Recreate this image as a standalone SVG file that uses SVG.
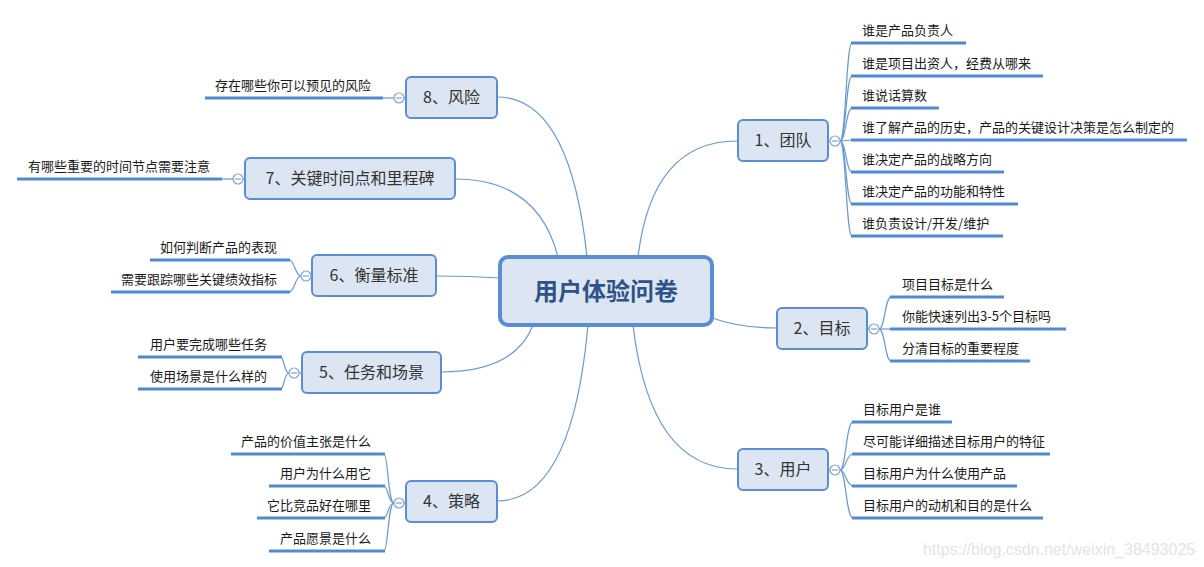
<svg xmlns="http://www.w3.org/2000/svg" width="1204" height="567" viewBox="0 0 1204 567">
<style>
.bg{fill:#ffffff}
.conn{fill:none;stroke:#6a98d6;stroke-width:1.2}
.lconn{fill:none;stroke:#6a98d6;stroke-width:1.2}
.ul{stroke:#5389d1;stroke-width:3;stroke-linecap:butt}
.box{fill:#dce6f2;stroke:#5b8dd5;stroke-width:2}
.root{fill:#dce6f2;stroke:#5b8dd5;stroke-width:4}
.col{fill:#ffffff;stroke:#7ba3dc;stroke-width:1.2}
.minus{stroke:#7ba3dc;stroke-width:1.2}
.bt{font-family:"Noto Sans CJK SC","Liberation Sans",sans-serif;font-size:16px;fill:#333;text-anchor:middle}
.rt{font-family:"Noto Sans CJK SC","Liberation Sans",sans-serif;font-size:24px;font-weight:bold;fill:#2f5288;text-anchor:middle}
.lt{font-family:"Noto Sans CJK SC","Liberation Sans",sans-serif;font-size:13px;fill:#1a1a1a}
.le{text-anchor:end}
.wm{font-family:"Liberation Sans",Arial,sans-serif;font-size:16px;fill:#e4e4e4}
</style>
<rect class="bg" x="0" y="0" width="1204" height="567"/>
<g id="connectors">
<path class="conn" d="M638,257 Q652,141 737,141"/>
<path class="conn" d="M712,318 Q740,328 777,328"/>
<path class="conn" d="M633,325 Q650,469 737,469"/>
<path class="conn" d="M587,257 Q570,97 497,97"/>
<path class="conn" d="M558,257 Q538,179 455,179"/>
<path class="conn" d="M500,278 Q470,276 436,276"/>
<path class="conn" d="M533,325 Q515,372 441,372"/>
<path class="conn" d="M588,325 Q572,501 497,501"/>
<path class="lconn" d="M829,141 L830,141"/>
<path class="lconn" d="M840,141 C846,141 846,43 852,43"/>
<path class="lconn" d="M840,141 C846,141 846,76 852,76"/>
<path class="lconn" d="M840,141 C846,141 846,108 852,108"/>
<path class="lconn" d="M840,141 L852,140"/>
<path class="lconn" d="M840,141 C846,141 846,172 852,172"/>
<path class="lconn" d="M840,141 C846,141 846,204 852,204"/>
<path class="lconn" d="M840,141 C846,141 846,236 852,236"/>
<path class="lconn" d="M867,329 L869,329"/>
<path class="lconn" d="M879,329 C885,329 885,297 891,297"/>
<path class="lconn" d="M879,329 L891,329"/>
<path class="lconn" d="M879,329 C885,329 885,361 891,361"/>
<path class="lconn" d="M829,470 L830,470"/>
<path class="lconn" d="M840,470 C846,470 846,422 853,422"/>
<path class="lconn" d="M840,470 C846,470 846,454 853,454"/>
<path class="lconn" d="M840,470 C846,470 846,486 853,486"/>
<path class="lconn" d="M840,470 C846,470 846,518 853,518"/>
<path class="lconn" d="M406,98 L404,98"/>
<path class="lconn" d="M394,98 L383,98"/>
<path class="lconn" d="M245,179 L243,179"/>
<path class="lconn" d="M233,179 L222,179"/>
<path class="lconn" d="M312,276 L311,276"/>
<path class="lconn" d="M301,276 C295,276 295,260 289,260"/>
<path class="lconn" d="M301,276 C295,276 295,292 289,292"/>
<path class="lconn" d="M302,373 L299,373"/>
<path class="lconn" d="M289,373 C284,373 284,357 281,357"/>
<path class="lconn" d="M289,373 C284,373 284,389 281,389"/>
<path class="lconn" d="M406,503 L404,503"/>
<path class="lconn" d="M394,503 C388,503 388,454 384,454"/>
<path class="lconn" d="M394,503 C388,503 388,486 384,486"/>
<path class="lconn" d="M394,503 C388,503 388,518 384,518"/>
<path class="lconn" d="M394,503 C388,503 388,551 384,551"/>
</g>
<g id="root">
<rect class="root" x="500" y="257" width="212" height="68" rx="8"/>
<text class="rt" x="606" y="300">用户体验问卷</text>
</g>
<g id="b1">
<rect class="box" x="738" y="120" width="90" height="41" rx="5"/>
<text class="bt" x="783" y="146">1、团队</text>
<circle class="col" cx="835" cy="141" r="5"/><line class="minus" x1="832" y1="141" x2="838" y2="141"/>
</g>
<g id="b1-leaves">
<line class="ul" x1="851" y1="43" x2="966" y2="43"/><text class="lt" x="862" y="35">谁是产品负责人</text>
<line class="ul" x1="851" y1="76" x2="1043" y2="76"/><text class="lt" x="862" y="68">谁是项目出资人，经费从哪来</text>
<line class="ul" x1="851" y1="108" x2="939" y2="108"/><text class="lt" x="862" y="100">谁说话算数</text>
<line class="ul" x1="851" y1="140" x2="1187" y2="140"/><text class="lt" x="862" y="132">谁了解产品的历史，产品的关键设计决策是怎么制定的</text>
<line class="ul" x1="851" y1="172" x2="1004" y2="172"/><text class="lt" x="862" y="164">谁决定产品的战略方向</text>
<line class="ul" x1="851" y1="204" x2="1018" y2="204"/><text class="lt" x="862" y="196">谁决定产品的功能和特性</text>
<line class="ul" x1="851" y1="236" x2="1003" y2="236"/><text class="lt" x="862" y="228">谁负责设计/开发/维护</text>
</g>
<g id="b2">
<rect class="box" x="777" y="308" width="90" height="41" rx="5"/>
<text class="bt" x="822" y="334">2、目标</text>
<circle class="col" cx="874" cy="329" r="5"/><line class="minus" x1="871" y1="329" x2="877" y2="329"/>
</g>
<g id="b2-leaves">
<line class="ul" x1="890" y1="297" x2="1004" y2="297"/><text class="lt" x="902" y="289">项目目标是什么</text>
<line class="ul" x1="890" y1="329" x2="1066" y2="329"/><text class="lt" x="902" y="321">你能快速列出3-5个目标吗</text>
<line class="ul" x1="890" y1="361" x2="1030" y2="361"/><text class="lt" x="902" y="353">分清目标的重要程度</text>
</g>
<g id="b3">
<rect class="box" x="738" y="449" width="90" height="41" rx="5"/>
<text class="bt" x="783" y="475">3、用户</text>
<circle class="col" cx="835" cy="470" r="5"/><line class="minus" x1="832" y1="470" x2="838" y2="470"/>
</g>
<g id="b3-leaves">
<line class="ul" x1="852" y1="422" x2="952" y2="422"/><text class="lt" x="863" y="414">目标用户是谁</text>
<line class="ul" x1="852" y1="454" x2="1050" y2="454"/><text class="lt" x="863" y="446">尽可能详细描述目标用户的特征</text>
<line class="ul" x1="852" y1="486" x2="1017" y2="486"/><text class="lt" x="863" y="478">目标用户为什么使用产品</text>
<line class="ul" x1="852" y1="518" x2="1043" y2="518"/><text class="lt" x="863" y="510">目标用户的动机和目的是什么</text>
</g>
<g id="b8">
<rect class="box" x="406" y="77" width="91" height="41" rx="5"/>
<text class="bt" x="451.5" y="103">8、风险</text>
<circle class="col" cx="399" cy="98" r="5"/><line class="minus" x1="396" y1="98" x2="402" y2="98"/>
</g>
<g id="b8-leaves">
<line class="ul" x1="205" y1="98" x2="383" y2="98"/><text class="lt le" x="371" y="90">存在哪些你可以预见的风险</text>
</g>
<g id="b7">
<rect class="box" x="245" y="158" width="210" height="41" rx="5"/>
<text class="bt" x="350" y="184">7、关键时间点和里程碑</text>
<circle class="col" cx="238" cy="179" r="5"/><line class="minus" x1="235" y1="179" x2="241" y2="179"/>
</g>
<g id="b7-leaves">
<line class="ul" x1="17" y1="179" x2="222" y2="179"/><text class="lt le" x="210" y="171">有哪些重要的时间节点需要注意</text>
</g>
<g id="b6">
<rect class="box" x="312" y="255" width="124" height="41" rx="5"/>
<text class="bt" x="374" y="281">6、衡量标准</text>
<circle class="col" cx="306" cy="276" r="5"/><line class="minus" x1="303" y1="276" x2="309" y2="276"/>
</g>
<g id="b6-leaves">
<line class="ul" x1="150" y1="260" x2="290" y2="260"/><text class="lt le" x="277" y="252">如何判断产品的表现</text>
<line class="ul" x1="111" y1="292" x2="290" y2="292"/><text class="lt le" x="277" y="284">需要跟踪哪些关键绩效指标</text>
</g>
<g id="b5">
<rect class="box" x="302" y="352" width="139" height="41" rx="5"/>
<text class="bt" x="371.5" y="378">5、任务和场景</text>
<circle class="col" cx="294" cy="373" r="5"/><line class="minus" x1="291" y1="373" x2="297" y2="373"/>
</g>
<g id="b5-leaves">
<line class="ul" x1="138" y1="357" x2="282" y2="357"/><text class="lt le" x="267" y="349">用户要完成哪些任务</text>
<line class="ul" x1="138" y1="389" x2="282" y2="389"/><text class="lt le" x="267" y="381">使用场景是什么样的</text>
</g>
<g id="b4">
<rect class="box" x="406" y="481" width="91" height="41" rx="5"/>
<text class="bt" x="451.5" y="507">4、策略</text>
<circle class="col" cx="399" cy="503" r="5"/><line class="minus" x1="396" y1="503" x2="402" y2="503"/>
</g>
<g id="b4-leaves">
<line class="ul" x1="231" y1="454" x2="385" y2="454"/><text class="lt le" x="371" y="446">产品的价值主张是什么</text>
<line class="ul" x1="269" y1="486" x2="385" y2="486"/><text class="lt le" x="371" y="478">用户为什么用它</text>
<line class="ul" x1="257" y1="518" x2="385" y2="518"/><text class="lt le" x="371" y="510">它比竞品好在哪里</text>
<line class="ul" x1="269" y1="551" x2="385" y2="551"/><text class="lt le" x="371" y="543">产品愿景是什么</text>
</g>
<text class="wm" x="923" y="555">https://blog.csdn.net/weixin_38493025</text>
</svg>
